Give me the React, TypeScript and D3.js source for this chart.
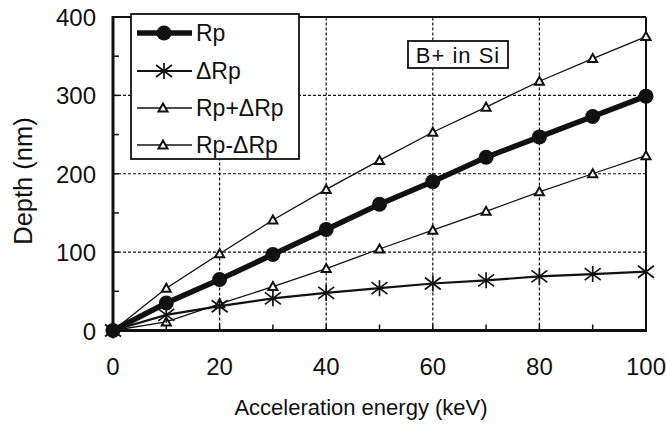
import React, { useEffect, useRef } from "react";
import * as d3 from "d3";

const energies = [0, 10, 20, 30, 40, 50, 60, 70, 80, 90, 100];
const rp = [0, 35, 65, 97, 129, 161, 190, 221, 247, 273, 299];
const dRp = [0, 20, 31, 41, 48, 54, 60, 64, 69, 72, 75];
const rpPlus = [0, 54, 98, 141, 180, 217, 253, 285, 318, 347, 375];
const rpMinus = [0, 11, 34, 56, 79, 104, 128, 152, 177, 200, 223];
const seriesNames = ["Rp", "ΔRp", "Rp+ΔRp", "Rp-ΔRp"];
const xTicks = [0, 20, 40, 60, 80, 100];
const yTicks = [0, 100, 200, 300, 400];
const xLabel = "Acceleration energy (keV)";
const yLabel = "Depth (nm)";
const annotation = "B+ in Si";

const W = 666, H = 424;
const FONT = "'Liberation Sans', Arial, sans-serif";

export default function App() {
  const ref = useRef<SVGSVGElement>(null);
  useEffect(() => {
    const svg = d3.select(ref.current);
    svg.selectAll("*").remove();
    const x = d3.scaleLinear().domain([0, 100]).range([113, 646]);
    const y = d3.scaleLinear().domain([0, 400]).range([330.5, 17]);
    const g = svg.append("g");
    const ink = "#111";

    // gridlines
    xTicks.filter(t => t > 0 && t < 100).forEach(t => {
      g.append("line").attr("x1", x(t)).attr("x2", x(t)).attr("y1", y(0)).attr("y2", y(400))
        .attr("stroke", ink).attr("stroke-width", 1.2).attr("stroke-dasharray", "3,2");
    });
    yTicks.filter(t => t > 0 && t < 400).forEach(t => {
      g.append("line").attr("x1", x(0)).attr("x2", x(100)).attr("y1", y(t)).attr("y2", y(t))
        .attr("stroke", ink).attr("stroke-width", 1.2).attr("stroke-dasharray", "3,2");
    });
    // minor ticks
    d3.range(10, 100, 10).forEach(t => {
      g.append("line").attr("x1", x(t)).attr("x2", x(t)).attr("y1", y(0)).attr("y2", y(0) - 6)
        .attr("stroke", ink).attr("stroke-width", 1.5);
    });
    d3.range(50, 400, 50).forEach(t => {
      g.append("line").attr("x1", x(0)).attr("x2", x(0) + 6).attr("y1", y(t)).attr("y2", y(t))
        .attr("stroke", ink).attr("stroke-width", 1.5);
    });
    // frame
    g.append("line").attr("x1", x(0)).attr("x2", x(100)).attr("y1", y(400)).attr("y2", y(400)).attr("stroke", ink).attr("stroke-width", 2);
    g.append("line").attr("x1", x(100)).attr("x2", x(100)).attr("y1", y(400)).attr("y2", y(0)).attr("stroke", ink).attr("stroke-width", 2);
    g.append("line").attr("x1", x(0)).attr("x2", x(0)).attr("y1", y(400) - 1).attr("y2", y(0) + 1.5).attr("stroke", ink).attr("stroke-width", 3);
    g.append("line").attr("x1", x(0) - 1.5).attr("x2", x(100) + 1).attr("y1", y(0)).attr("y2", y(0)).attr("stroke", ink).attr("stroke-width", 3);

    // tick labels
    xTicks.forEach(t => {
      g.append("text").attr("x", x(t)).attr("y", 375).attr("text-anchor", "middle")
        .attr("font-family", FONT).attr("font-size", 24).attr("fill", ink).text(t);
    });
    yTicks.forEach(t => {
      g.append("text").attr("x", 96).attr("y", y(t) + 9).attr("text-anchor", "end")
        .attr("font-family", FONT).attr("font-size", 24).attr("fill", ink).text(t);
    });
    g.append("text").attr("x", 361).attr("y", 415).attr("text-anchor", "middle")
      .attr("font-family", FONT).attr("font-size", 22).attr("fill", ink).text(xLabel);
    g.append("text").attr("transform", `translate(32,181) rotate(-90)`).attr("text-anchor", "middle")
      .attr("font-family", FONT).attr("font-size", 25.5).attr("fill", ink).text(yLabel);

    const line = d3.line<[number, number]>().x(d => x(d[0])).y(d => y(d[1]));
    const pts = (vals: number[]) => energies.map((e, i) => [e, vals[i]] as [number, number]);

    const tri = (sel: any, cx: number, cy: number) => {
      sel.append("path").attr("d", `M${cx},${cy - 4.5}L${cx + 4.5},${cy + 3.5}L${cx - 4.5},${cy + 3.5}Z`)
        .attr("fill", "white").attr("stroke", ink).attr("stroke-width", 2);
    };
    const cross = (sel: any, cx: number, cy: number) => {
      const s = 8;
      sel.append("path").attr("d", `M${cx - s},${cy - s * 0.75}L${cx + s},${cy + s * 0.75}M${cx - s},${cy + s * 0.75}L${cx + s},${cy - s * 0.75}M${cx},${cy - s}L${cx},${cy + s}`)
        .attr("stroke", ink).attr("stroke-width", 1.7).attr("fill", "none");
    };
    const dot = (sel: any, cx: number, cy: number) => {
      sel.append("circle").attr("cx", cx).attr("cy", cy).attr("r", 7.5).attr("fill", ink);
    };

    // series
    g.append("path").attr("d", line(pts(rpPlus))).attr("fill", "none").attr("stroke", ink).attr("stroke-width", 1.3);
    g.append("path").attr("d", line(pts(rpMinus))).attr("fill", "none").attr("stroke", ink).attr("stroke-width", 1.3);
    g.append("path").attr("d", line(pts(dRp))).attr("fill", "none").attr("stroke", ink).attr("stroke-width", 2.2);
    g.append("path").attr("d", line(pts(rp))).attr("fill", "none").attr("stroke", ink).attr("stroke-width", 5.5);
    pts(rpPlus).forEach(p => tri(g, x(p[0]), y(p[1])));
    pts(rpMinus).forEach(p => tri(g, x(p[0]), y(p[1])));
    pts(dRp).forEach(p => cross(g, x(p[0]), y(p[1])));
    pts(rp).forEach(p => dot(g, x(p[0]), y(p[1])));

    // legend
    const lg = svg.append("g");
    lg.append("rect").attr("x", 131).attr("y", 14).attr("width", 168).attr("height", 145)
      .attr("fill", "white").attr("stroke", ink).attr("stroke-width", 1.8);
    const rowsY = [33, 71, 108, 145];
    const widths = [5.5, 2, 1.3, 1.3];
    seriesNames.forEach((name, i) => {
      const yy = rowsY[i];
      lg.append("line").attr("x1", 137).attr("x2", 192).attr("y1", yy).attr("y2", yy)
        .attr("stroke", ink).attr("stroke-width", widths[i]);
      if (i === 0) dot(lg, 164, yy);
      else if (i === 1) cross(lg, 164, yy);
      else tri(lg, 163, yy);
      lg.append("text").attr("x", 196).attr("y", yy + 8).attr("font-family", FONT)
        .attr("font-size", 23).attr("fill", ink).text(name);
    });

    // annotation
    svg.append("rect").attr("x", 408).attr("y", 41).attr("width", 100).attr("height", 27)
      .attr("fill", "white").attr("stroke", ink).attr("stroke-width", 1.8);
    svg.append("text").attr("x", 458).attr("y", 63).attr("text-anchor", "middle")
      .attr("font-family", FONT).attr("font-size", 22).attr("letter-spacing", 1).attr("fill", ink).text(annotation);
  }, []);
  return (
    <svg ref={ref} width={W} height={H} style={{ position: "absolute", left: 0, top: 0, background: "white" }} />
  );
}
